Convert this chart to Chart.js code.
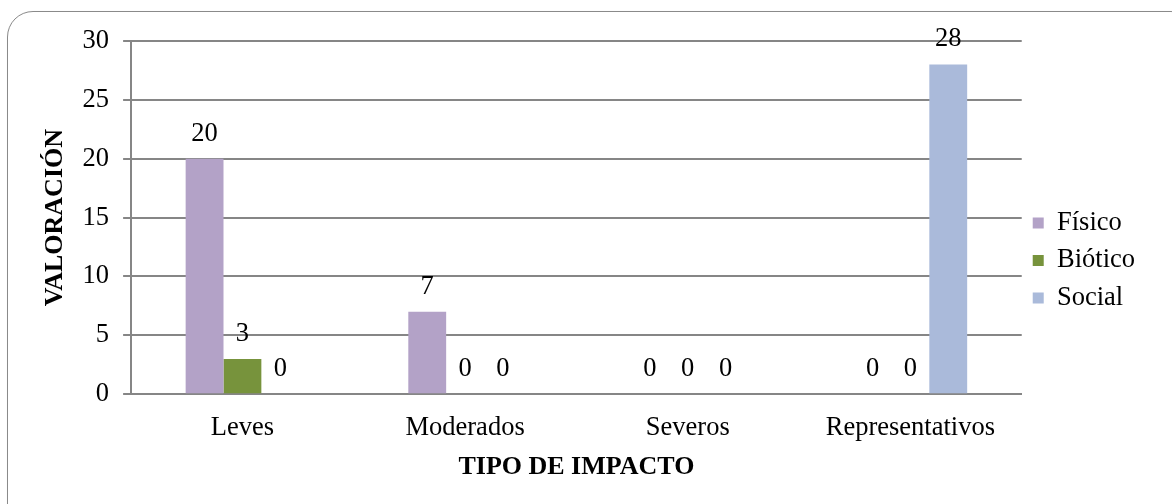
<!DOCTYPE html>
<html>
<head>
<meta charset="utf-8">
<script src="https://cdn.jsdelivr.net/npm/chart.js@4/dist/chart.umd.min.js"></script>
<style>
  html, body { margin: 0; padding: 0; background: #fff; overflow: hidden; }
  #wrap { position: relative; width: 1172px; height: 504px; }
  #frame {
    position: absolute; left: 7px; top: 11px; width: 1190px; height: 520px;
    border: 1.5px solid #8a8a8a; border-radius: 26px; box-sizing: border-box;
    box-shadow: 1px 1px 2px rgba(0,0,0,0.15);
  }
  canvas { position: absolute; left: 0; top: 0; }
</style>
</head>
<body>
<div id="wrap">
  <div id="frame"></div>
  <canvas id="mychart" width="1172" height="504"></canvas>
</div>
<script>
const categories = ['Leves', 'Moderados', 'Severos', 'Representativos'];
const fisico = [20, 7, 0, 0];
const biotico = [3, 0, 0, 0];
const social = [0, 0, 0, 28];
const yTicks = [0, 5, 10, 15, 20, 25, 30];

const serif = "'Liberation Serif', 'Times New Roman', serif";
Chart.defaults.font.family = serif;
Chart.defaults.color = '#000';

// etiquetas de valor encima de cada barra (incluye los ceros)
const valueLabels = {
  id: 'valueLabels',
  afterDatasetsDraw(chart) {
    const ctx = chart.ctx;
    ctx.save();
    ctx.font = '26.5px ' + serif;
    ctx.fillStyle = '#000';
    ctx.textAlign = 'center';
    ctx.textBaseline = 'middle';
    chart.data.datasets.forEach((ds, i) => {
      chart.getDatasetMeta(i).data.forEach((bar, j) => {
        ctx.fillText(String(ds.data[j]), bar.x, bar.y - 25);
      });
    });
    ctx.restore();
  }
};

const data = {
  labels: categories,
  datasets: [
    { label: 'Físico', data: fisico, backgroundColor: '#B3A2C7', borderWidth: 0 },
    { label: 'Biótico', data: biotico, backgroundColor: '#77933C', borderWidth: 0 },
    { label: 'Social', data: social, backgroundColor: '#AABADA', borderWidth: 0 }
  ]
};

const config = {
  type: 'bar',
  data: data,
  options: {
    responsive: false,
    animation: false,
    layout: { padding: { left: 30, right: 27, top: 41, bottom: 24 } },
    datasets: { bar: { categoryPercentage: 0.51, barPercentage: 1.0 } },
    plugins: {
      tooltip: { enabled: false },
      legend: {
        position: 'right',
        labels: {
          color: '#000',
          boxWidth: 11,
          boxHeight: 11,
          padding: 11,
          font: { size: 26.5, family: serif }
        }
      }
    },
    scales: {
      x: {
        grid: { display: false },
        border: { display: true, color: '#868686', width: 2 },
        ticks: { color: '#000', padding: 10, font: { size: 26.5, family: serif } },
        title: {
          display: true,
          text: 'TIPO DE IMPACTO',
          color: '#000',
          padding: { top: 0, bottom: 0 },
          font: { size: 26, family: serif, weight: 'bold', lineHeight: 1.0 }
        }
      },
      y: {
        min: 0,
        max: 30,
        afterBuildTicks: (axis) => { axis.ticks = yTicks.map(v => ({ value: v })); },
        grid: { color: '#868686', lineWidth: 2, tickLength: 8, drawTicks: true },
        border: { display: true, color: '#868686', width: 2 },
        ticks: { color: '#000', padding: 14, font: { size: 26.5, family: serif } },
        title: {
          display: true,
          text: 'VALORACIÓN',
          color: '#000',
          padding: { top: 12.6, bottom: 0 },
          font: { size: 26, family: serif, weight: 'bold', lineHeight: 1.0 }
        }
      }
    }
  },
  plugins: [valueLabels]
};

const ctx = document.getElementById('mychart').getContext('2d');
new Chart(ctx, config);
</script>
</body>
</html>
